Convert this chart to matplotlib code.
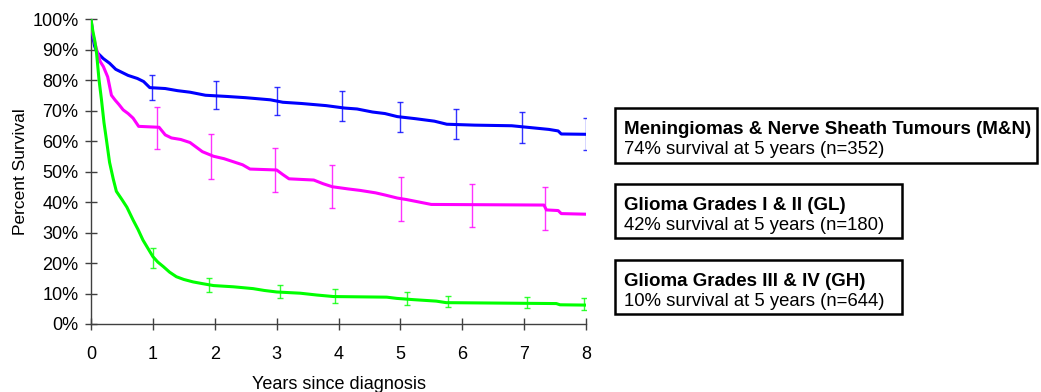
import matplotlib
matplotlib.use('Agg')
import matplotlib.pyplot as plt
from matplotlib.patches import Rectangle
from matplotlib.ticker import PercentFormatter

plt.rcParams['font.family'] = ['Liberation Sans', 'DejaVu Sans']

# Survival curves (years, percent survival)
mn_t = [0, 0.03, 0.06, 0.1, 0.15, 0.2, 0.3, 0.4, 0.5, 0.6, 0.75, 0.85, 0.95, 1.2, 1.4, 1.6,
        1.85, 2.2, 2.5, 2.9, 3.1, 3.4, 3.8, 4.1, 4.3, 4.55, 4.75, 4.95, 5.25, 5.55, 5.75,
        6.2, 6.8, 7.1, 7.4, 7.55, 7.6, 8.0]
mn_s = [100, 94, 91, 89, 88, 87, 85.5, 83.5, 82.5, 81.5, 80.5, 79.5, 77.5, 77.2, 76.5, 76,
        75, 74.6, 74.2, 73.5, 72.7, 72.3, 71.6, 70.8, 70.5, 69.5, 69, 68, 67.3, 66.5, 65.5,
        65.2, 65, 64.4, 63.8, 63.3, 62.3, 62.2]

gl_t = [0, 0.03, 0.09, 0.15, 0.2, 0.27, 0.33, 0.39, 0.45, 0.52, 0.6, 0.68, 0.77, 1.1, 1.2,
        1.3, 1.45, 1.6, 1.7, 1.8, 1.98, 2.15, 2.3, 2.45, 2.57, 3.0, 3.1, 3.2, 3.6, 3.75, 3.9,
        4.15, 4.35, 4.6, 4.75, 4.95, 5.1, 5.3, 5.5, 7.32, 7.36, 7.55, 7.6, 8.0]
gl_s = [100, 95, 90, 86, 84.4, 81, 75, 73.4, 72, 70.2, 69, 67.5, 64.8, 64.5, 62,
        61, 60.5, 59.5, 58, 56.5, 55, 54.2, 53.2, 52.2, 50.8, 50.5, 49, 47.6, 47.2, 46, 45,
        44.3, 43.8, 43, 42.3, 41.3, 40.8, 40, 39.2, 39.0, 37.4, 37.2, 36.2, 36.0]

gh_t = [0, 0.03, 0.06, 0.09, 0.13, 0.17, 0.21, 0.25, 0.3, 0.36, 0.41, 0.5, 0.58, 0.68, 0.76,
        0.84, 0.92, 1.0, 1.08, 1.17, 1.27, 1.38, 1.5, 1.65, 1.81, 1.98, 2.3, 2.62, 2.8, 3.0,
        3.38, 3.65, 3.92, 4.78, 4.94, 5.2, 5.58, 5.74, 7.52, 7.58, 8.0]
gh_s = [100, 96, 93, 88.8, 80, 73.4, 66, 60.3, 53, 47.5, 43.5, 40.8, 38.3, 34.1, 31,
        27.5, 24.8, 22.1, 20.3, 18.8, 17.0, 15.5, 14.6, 13.8, 13.2, 12.6, 12.2, 11.6, 11.0, 10.5,
        10.1, 9.5, 9.0, 8.8, 8.4, 8.0, 7.5, 7.0, 6.7, 6.3, 6.2]

# Confidence intervals
mn_err_t = [0.98, 2.02, 3.01, 4.06, 4.99, 5.9, 6.96, 8.0]
mn_err_lo = [73.4, 70.6, 68.4, 66.6, 62.9, 60.5, 59.5, 57.0]
mn_err_hi = [81.7, 79.6, 77.6, 76.3, 72.7, 70.4, 69.4, 67.4]

gl_err_t = [1.07, 1.94, 2.97, 3.89, 5.01, 6.15, 7.34]
gl_err_lo = [57.4, 47.5, 43.2, 37.9, 33.8, 31.7, 30.8]
gl_err_hi = [71.2, 62.2, 57.8, 52.1, 48.3, 45.8, 45.0]

gh_err_t = [1.0, 1.9, 3.05, 3.94, 5.1, 5.77, 7.04, 7.96]
gh_err_lo = [18.5, 10.4, 8.4, 7.0, 6.2, 5.7, 5.2, 4.6]
gh_err_hi = [24.8, 15.2, 12.8, 11.4, 10.4, 9.2, 9.0, 8.4]

legend_titles = ["Meningiomas & Nerve Sheath Tumours (M&N)",
                 "Glioma Grades I & II (GL)",
                 "Glioma Grades III & IV (GH)"]
legend_notes = ["74% survival at 5 years (n=352)",
                "42% survival at 5 years (n=180)",
                "10% survival at 5 years (n=644)"]

W, H = 1041, 392
fig = plt.figure(figsize=(W / 100, H / 100), dpi=100)
ax = fig.add_axes([91 / W, 1 - 324 / H, (586 - 91) / W, (324 - 19) / H])

series = [
    (mn_t, mn_s, mn_err_t, mn_err_lo, mn_err_hi, '#0000ff'),
    (gl_t, gl_s, gl_err_t, gl_err_lo, gl_err_hi, '#ff00ff'),
    (gh_t, gh_s, gh_err_t, gh_err_lo, gh_err_hi, '#00ff00'),
]
for t, s, et, elo, ehi, col in series:
    ax.plot(t, s, color=col, lw=2.2, zorder=3)
    mid = [(a + b) / 2 for a, b in zip(elo, ehi)]
    yerr = [[m - a for m, a in zip(mid, elo)], [b - m for m, b in zip(mid, ehi)]]
    ax.errorbar(et, mid, yerr=yerr, fmt='none', ecolor=col, elinewidth=1.0,
                capsize=2.5, capthick=1.0, alpha=0.8, zorder=2)

ax.set_xlim(0, 8)
ax.set_ylim(0, 100)
ax.set_xticks(range(0, 9))
ax.set_yticks(range(0, 101, 10))
ax.yaxis.set_major_formatter(PercentFormatter(decimals=0))
for side in ('top', 'right'):
    ax.spines[side].set_visible(False)
for side in ('left', 'bottom'):
    ax.spines[side].set_color('#404040')
    ax.spines[side].set_linewidth(1.0)
ax.tick_params(axis='both', direction='inout', length=8, width=1.0, color='#404040',
               labelsize=13, labelcolor='black')
ax.tick_params(axis='x', pad=12)
ax.tick_params(axis='y', pad=5)
ax.set_xlabel("Years since diagnosis", fontsize=13, labelpad=9)
ax.set_ylabel("Percent Survival", fontsize=12.5, labelpad=3)

# Boxed annotations to the right of the plot
boxes = [(615, 1037, 108, 163), (615, 902, 184, 238), (615, 902, 260, 314)]
for (x0, x1, y0, y1), title, note in zip(boxes, legend_titles, legend_notes):
    fig.patches.append(Rectangle((x0 / W, 1 - y1 / H), (x1 - x0) / W, (y1 - y0) / H,
                                 transform=fig.transFigure, fill=False,
                                 edgecolor='black', linewidth=1.8))
    fig.text(624 / W, 1 - (y0 + 21) / H, title, fontsize=13.5, fontweight='bold',
             va='center', ha='left')
    fig.text(624 / W, 1 - (y0 + 42) / H, note, fontsize=13.3, va='center', ha='left')

fig.savefig('out.png', dpi=100)
